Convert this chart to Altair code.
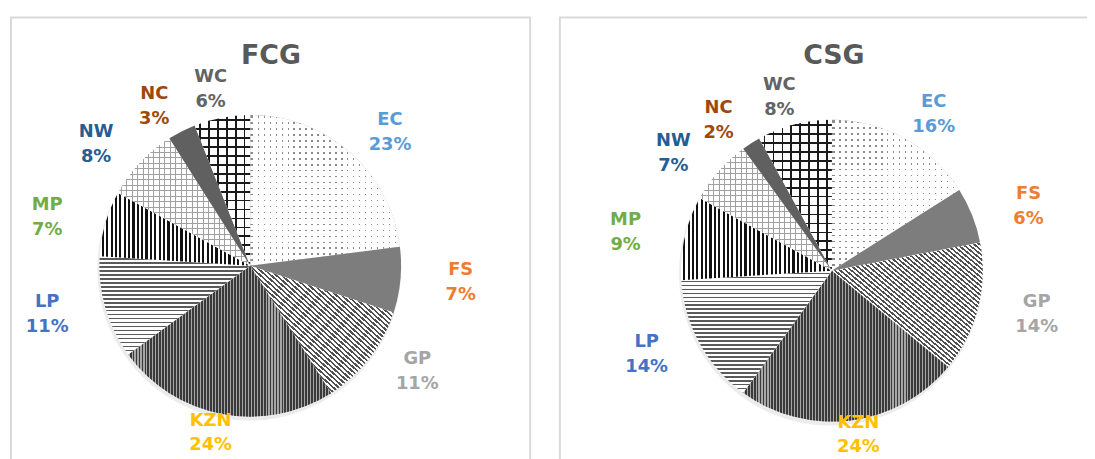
import math
import altair as alt
import pandas as pd

# ---------------- data ----------------
regions = ["EC", "FS", "GP", "KZN", "LP", "MP", "NW", "NC", "WC"]
fcg_pct = [23, 7, 11, 24, 11, 7, 8, 3, 6]
csg_pct = [16, 6, 14, 24, 14, 9, 7, 2, 8]
panels = ["FCG", "CSG"]
label_colors = ["#5B9BD5", "#ED7D31", "#A5A5A5", "#FFC000", "#4472C4",
                "#70AD47", "#255E91", "#9E480E", "#636363"]

# ---------------- layout / style ----------------
W, H = 1087, 451
R = 152
RX = 213
RY_MID, RY_AMP = 176, 5   # label radius: larger above the centre, smaller below
LY_MAX = 428              # keep bottom labels inside the page
centers = {"FCG": (244, 258), "CSG": (830, 263)}
title_pos = {"FCG": (265, 47), "CSG": (832, 47)}
FONT = "DejaVu Sans"
CLEAR = "rgba(255,255,255,0)"

# pattern: base colour + overlay stripe layers (direction, period px, line px, colour)
patterns = {
    "EC": ("#8c8c8c", [("v", 6, 4.6, "#ffffff"), ("h", 6, 4.6, "#ffffff")]),
    "FS": ("#7d7d7d", []),
    "GP": ("#ffffff", [("d", 3.6, 1.7, "#505050")]),
    "KZN": ("#a6a6a6", [("v", 3, 1.9, "#3a3a3a")]),
    "LP": ("#ffffff", [("h", 4, 1.6, "#5a5a5a")]),
    "MP": ("#ffffff", [("v", 4.4, 2.2, "#111111")]),
    "NW": ("#ffffff", [("v", 5.5, 1, "#a0a0a0"), ("h", 5.5, 1, "#a0a0a0")]),
    "NC": ("#606060", []),
    "WC": ("#ffffff", [("v", 9, 1.7, "#1a1a1a"), ("h", 9, 1.7, "#1a1a1a")]),
}

rows = []
for panel, vals in [("FCG", fcg_pct), ("CSG", csg_pct)]:
    cum = 0
    for i, (r, v) in enumerate(zip(regions, vals)):
        rows.append(dict(panel=panel, region=r, pct=v, start=cum, end=cum + v, order=i))
        cum += v
df = pd.DataFrame(rows)

theta_scale = alt.Scale(domain=[0, 100], range=[0, 2 * math.pi])


def slice_bbox(p0, p1):
    a0, a1 = p0 / 100 * 2 * math.pi, p1 / 100 * 2 * math.pi
    angs = [a0, a1] + [k * math.pi / 2 for k in range(5) if a0 < k * math.pi / 2 < a1]
    xs = [0.0] + [R * math.sin(a) for a in angs]
    ys = [0.0] + [-R * math.cos(a) for a in angs]
    return max(max(xs) - min(xs), 1), max(max(ys) - min(ys), 1)


def stripe_gradient(direction, period, line, color, w, h):
    if direction == "v":
        L, coords = w, dict(x1=0, y1=0, x2=1, y2=0)
    elif direction == "h":
        L, coords = h, dict(x1=0, y1=0, x2=0, y2=1)
    else:
        L, coords = math.hypot(w, h), dict(x1=0, y1=1, x2=1, y2=0)
    stops = [{"offset": 0, "color": CLEAR}]
    pos = period / 2
    while pos < L:
        s = min(pos / L, 1)
        e = min((pos + line) / L, 1)
        stops += [{"offset": s, "color": CLEAR}, {"offset": s, "color": color},
                  {"offset": e, "color": color}, {"offset": e, "color": CLEAR}]
        pos += period
    stops.append({"offset": 1, "color": CLEAR})
    return alt.LinearGradient(gradient="linear", stops=stops, **coords)


layers = []
one = pd.DataFrame({"k": [0]})

# frames
for x0, x1 in [(3, 526), (556, 1200)]:
    layers.append(
        alt.Chart(one).mark_rect(filled=False, stroke="#d9d9d9", strokeWidth=2).encode(
            x=alt.value(x0), x2=alt.value(x1), y=alt.value(8), y2=alt.value(600)
        )
    )

for panel in panels:
    cx, cy = centers[panel]
    # soft shadow
    layers.append(
        alt.Chart(one).mark_arc(radius=R + 1, fill="#c8c8c8", opacity=0.35).encode(
            theta=alt.value(0), theta2=alt.value(2 * math.pi),
            x=alt.value(cx - 1), y=alt.value(cy + 3)
        )
    )
    sub = df[df.panel == panel]
    for _, row in sub.iterrows():
        base, overlays = patterns[row.region]
        w, h = slice_bbox(row.start, row.end)
        fills = [base] + [stripe_gradient(d, p, l, c, w, h) for d, p, l, c in overlays]
        for f in fills:
            layers.append(
                alt.Chart(df)
                .transform_filter((alt.datum.panel == panel) & (alt.datum.region == row.region))
                .mark_arc(radius=R, fill=f)
                .encode(
                    theta=alt.Theta("start:Q", stack=None, scale=theta_scale),
                    theta2="end:Q",
                    x=alt.value(cx), y=alt.value(cy),
                )
            )

    # labels
    lab = (
        alt.Chart(df)
        .transform_filter(alt.datum.panel == panel)
        .transform_calculate(mid="(datum.start + datum.end) / 2 * 2 * PI / 100")
        .transform_calculate(lx=f"{cx} + {RX} * sin(datum.mid)")
        .transform_calculate(
            ly=f"min({LY_MAX}, {cy} - ({RY_MID} + {RY_AMP} * cos(datum.mid)) * cos(datum.mid))"
        )
        .transform_calculate(ptxt="datum.pct + '%'")
    )
    color = alt.Color("region:N", scale=alt.Scale(domain=regions, range=label_colors), legend=None)
    for field, dy in [("region", -12), ("ptxt", 13)]:
        layers.append(
            lab.mark_text(font=FONT, fontSize=18, fontWeight="bold", baseline="middle",
                          align="center", dy=dy)
            .encode(
                x=alt.X("lx:Q", scale=None, axis=None),
                y=alt.Y("ly:Q", scale=None, axis=None),
                text=alt.Text(f"{field}:N"),
                color=color,
            )
        )

    tx, ty = title_pos[panel]
    layers.append(
        alt.Chart(pd.DataFrame({"t": [panel]})).mark_text(
            font=FONT, fontSize=27, fontWeight="bold", color="#595959",
            baseline="middle", align="center"
        ).encode(x=alt.value(tx), y=alt.value(ty), text="t:N")
    )

chart = (
    alt.layer(*layers)
    .properties(width=W, height=H, padding=0, autosize="none", background="white")
    .configure_view(strokeWidth=0)
)

chart.save("out.html", embed_options={"renderer": "svg", "actions": False})
